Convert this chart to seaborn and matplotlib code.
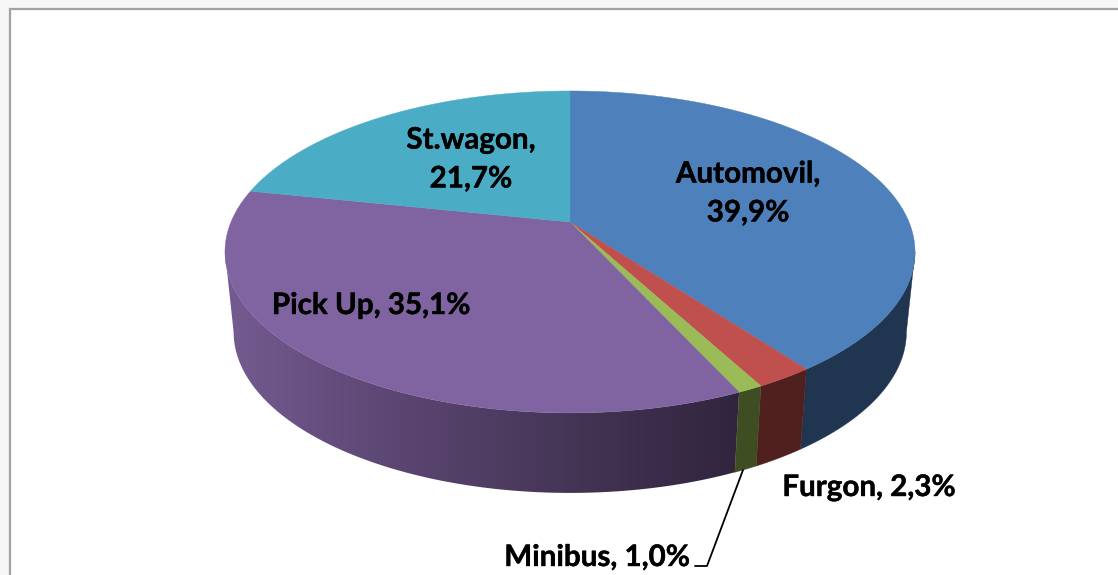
import numpy as np
import matplotlib
matplotlib.use("Agg")
import matplotlib.pyplot as plt
import matplotlib.patheffects as pe
from matplotlib.patches import Polygon, Rectangle
import seaborn as sns

# slice data, clockwise from 12 o'clock
categories = ["Automovil", "Furgon", "Minibus", "Pick Up", "St.wagon"]
shares = [39.9, 2.3, 1.0, 35.1, 21.7]
labels = ["Automovil,\n39,9%", "Furgon, 2,3%", "Minibus, 1,0%", "Pick Up, 35,1%", "St.wagon,\n21,7%"]
top_colors = ["#4e80bc", "#c0504d", "#9bbb59", "#8064a2", "#4bacc6"]
side_colors = ["#1f3550", "#50201e", "#3f4d22", None, "#2c6a7c"]
purple_shade = ["#755c92", "#5b4672", "#453555", "#30243d"]

# label layout (pixel space of the picture)
label_pos = [(748, 193), (869, 487), (597, 557), (371, 305), (471, 159)]

# pie geometry
cx, cy = 570, 222
rx, ry, persp = 339, 155.4, 0.186
depth, shrink = 80, 0.975


def rim(theta, scale=1.0, drop=0.0):
    # perspective projection of the circle, theta clockwise from the top
    w = 1 + persp * np.cos(theta)
    x = cx + scale * rx * np.sin(theta) / w
    y = cy - ry * np.cos(theta) / w + drop
    return x, y


sns.set_theme(style="white")
plt.rcParams["font.family"] = ["Lato", "DejaVu Sans"]

fig = plt.figure(figsize=(11.18, 5.75), dpi=100, facecolor="#f7f7f7")
ax = fig.add_axes([0, 0, 1, 1])
ax.axis("off")

ax.add_patch(Rectangle((10, 9), 1130, 590, facecolor="white", edgecolor="#a3a3a3", lw=1.6, zorder=0))

edges = np.radians(np.cumsum([0] + shares) * 3.6)
# only the front of the wall shows, between the two silhouette tangents
front_a = np.arccos(-persp)
front_b = 2 * np.pi - front_a

# side wall
shade = sns.blend_palette(purple_shade, 256, as_cmap=True)
for i in range(len(shares)):
    a, b = max(edges[i], front_a), min(edges[i + 1], front_b)
    if a >= b:
        continue
    t = np.linspace(a, b, 200)
    xt, yt = rim(t)
    xb, yb = rim(t, shrink, depth)
    pts = list(zip(xt, yt)) + list(zip(xb[::-1], yb[::-1]))
    if side_colors[i] is not None:
        ax.add_patch(Polygon(pts, closed=True, facecolor=side_colors[i], edgecolor=side_colors[i], lw=0.3, zorder=1))
    else:
        clip = Polygon(pts, closed=True, facecolor="none", edgecolor="none", zorder=0.5)
        ax.add_patch(clip)
        im = ax.imshow(np.linspace(0, 1, 256).reshape(1, -1), cmap=shade, extent=(220, 745, 500, 240),
                       aspect="auto", interpolation="bilinear", zorder=0.5)
        im.set_clip_path(clip)

# top face
for i in range(len(shares)):
    t = np.linspace(edges[i], edges[i + 1], 200)
    x, y = rim(t)
    pts = [(cx, cy)] + list(zip(x, y))
    ax.add_patch(Polygon(pts, closed=True, facecolor=top_colors[i], edgecolor=top_colors[i], lw=0.3, zorder=2))

# labels
for txt, pos in zip(labels, label_pos):
    ax.text(pos[0], pos[1], txt, ha="center", va="center", fontsize=21.3, fontweight="bold",
            color="black", linespacing=1.47, zorder=3,
            path_effects=[pe.withStroke(linewidth=0.3, foreground="black")])

# leader line for the smallest slice
ax.plot([743, 707, 695], [470, 566, 566], color="black", lw=1.3, zorder=3)

ax.set_xlim(0, 1118)
ax.set_ylim(575, 0)

fig.savefig("out.png", dpi=100, facecolor=fig.get_facecolor())
